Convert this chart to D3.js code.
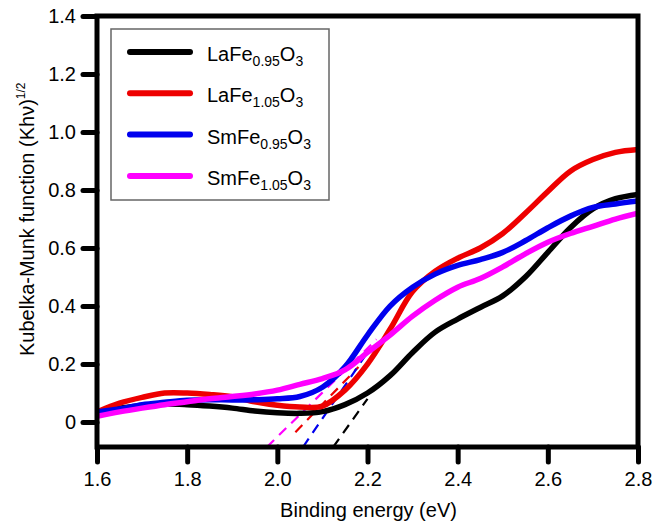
<!DOCTYPE html>
<html>
<head>
<meta charset="utf-8">
<script src="https://cdn.jsdelivr.net/npm/d3@7"></script>
<style>
  html, body { margin: 0; padding: 0; background: #fff; }
  svg { display: block; font-family: "Liberation Sans", Arial, sans-serif; }
</style>
</head>
<body>
<svg id="chart" width="657" height="523"></svg>
<script>
// energies (eV) shared by all four series
const energy = [1.60, 1.65, 1.70, 1.75, 1.80, 1.85, 1.90, 1.95, 2.00, 2.05, 2.10, 2.15, 2.20,
                2.25, 2.30, 2.35, 2.40, 2.45, 2.50, 2.55, 2.60, 2.65, 2.70, 2.75, 2.80];

const laFe095 = [0.035, 0.048, 0.056, 0.062, 0.060, 0.055, 0.048, 0.038, 0.032, 0.030, 0.036, 0.060, 0.100,
                 0.160, 0.240, 0.310, 0.355, 0.395, 0.435, 0.500, 0.585, 0.670, 0.735, 0.770, 0.785];
const laFe105 = [0.035, 0.065, 0.085, 0.100, 0.100, 0.095, 0.087, 0.070, 0.058, 0.052, 0.055, 0.110, 0.200,
                 0.320, 0.450, 0.520, 0.565, 0.600, 0.650, 0.720, 0.795, 0.865, 0.905, 0.930, 0.940];
const smFe095 = [0.035, 0.045, 0.060, 0.068, 0.075, 0.077, 0.076, 0.077, 0.080, 0.088, 0.120, 0.190, 0.300,
                 0.400, 0.465, 0.510, 0.540, 0.560, 0.585, 0.625, 0.670, 0.710, 0.740, 0.752, 0.762];
const smFe105 = [0.020, 0.035, 0.048, 0.060, 0.070, 0.080, 0.088, 0.097, 0.110, 0.130, 0.150, 0.180, 0.240,
                 0.300, 0.365, 0.420, 0.465, 0.495, 0.535, 0.580, 0.620, 0.650, 0.675, 0.700, 0.720];

// tangent (band-gap) extrapolations: [x0, y0, x1, y1]
const tangents = [
  [2.124, -0.086, 2.200, 0.080],
  [2.040, -0.035, 2.180, 0.190],
  [2.057, -0.086, 2.200, 0.240],
  [1.977, -0.086, 2.220, 0.285]
];

const names = [["LaFe", "0.95", "O", "3"], ["LaFe", "1.05", "O", "3"],
               ["SmFe", "0.95", "O", "3"], ["SmFe", "1.05", "O", "3"]];
const colors = ["#000000", "#ee0000", "#0000ee", "#ff00ff"];
const series = [laFe095, laFe105, smFe095, smFe105];

const xTicks = [1.6, 1.8, 2.0, 2.2, 2.4, 2.6, 2.8];
const yTicks = [0, 0.2, 0.4, 0.6, 0.8, 1.0, 1.2, 1.4];

const L = 97, R = 638, T = 16, B = 447;
const svg = d3.select('#chart');
const x = d3.scaleLinear().domain([1.6, 2.8]).range([L, R]);
const y = d3.scaleLinear().domain([-0.086, 1.4]).range([B, T]);

svg.append('clipPath').attr('id', 'clip')
  .append('rect').attr('x', L).attr('y', T).attr('width', R - L).attr('height', B - T);

const plot = svg.append('g').attr('clip-path', 'url(#clip)');

// dashed tangents
tangents.forEach((t, i) => {
  plot.append('line')
    .attr('x1', x(t[0])).attr('y1', y(t[1]))
    .attr('x2', x(t[2])).attr('y2', y(t[3]))
    .attr('stroke', colors[i]).attr('stroke-width', 2.2)
    .attr('stroke-dasharray', '10,7');
});

const line = d3.line()
  .x((d, i) => x(energy[i]))
  .y(d => y(d))
  .curve(d3.curveCatmullRom.alpha(0.5));

series.forEach((s, i) => {
  plot.append('path').datum(s)
    .attr('d', line)
    .attr('fill', 'none')
    .attr('stroke', colors[i])
    .attr('stroke-width', 5.5)
    .attr('stroke-linejoin', 'round');
});

// axes
const xAxis = svg.append('g').attr('transform', `translate(0,${B})`)
  .call(d3.axisBottom(x).tickValues(xTicks).tickSize(15).tickPadding(10).tickFormat(d3.format('.1f')));
const yAxis = svg.append('g').attr('transform', `translate(${L},0)`)
  .call(d3.axisLeft(y).tickValues(yTicks).tickSize(14).tickPadding(7)
    .tickFormat(d => d === 0 ? '0' : d3.format('.1f')(d)));

[xAxis, yAxis].forEach(a => {
  a.select('.domain').remove();
  a.selectAll('.tick line').attr('stroke', '#000').attr('stroke-width', 5).attr('stroke-linecap', 'round');
  a.selectAll('.tick text').attr('fill', '#000').style('font-size', '20px');
});

svg.append('rect')
  .attr('x', L).attr('y', T).attr('width', R - L).attr('height', B - T)
  .attr('fill', 'none').attr('stroke', '#000').attr('stroke-width', 5);

// axis titles
svg.append('text')
  .attr('x', (L + R) / 2 + 1).attr('y', 517)
  .attr('text-anchor', 'middle').style('font-size', '20px')
  .text('Binding energy (eV)');

const yt = svg.append('text')
  .attr('transform', 'translate(34,356) rotate(-90)')
  .attr('text-anchor', 'start').style('font-size', '20px');
yt.append('tspan').text('Kubelka-Munk function (Khν)');
yt.append('tspan').attr('dy', -9).style('font-size', '12px').text('1/2');

// legend
const lg = svg.append('g');
lg.append('rect').attr('x', 111).attr('y', 29).attr('width', 218).attr('height', 171)
  .attr('fill', '#fff').attr('stroke', '#666').attr('stroke-width', 1.5);
names.forEach((n, i) => {
  const ly = 52 + i * 41.3;
  lg.append('line').attr('x1', 130).attr('x2', 190).attr('y1', ly).attr('y2', ly)
    .attr('stroke', colors[i]).attr('stroke-width', 6).attr('stroke-linecap', 'round');
  const t = lg.append('text').attr('x', 207).attr('y', ly + 9).style('font-size', '20px');
  t.append('tspan').text(n[0]);
  t.append('tspan').attr('dy', 5).style('font-size', '14px').text(n[1]);
  t.append('tspan').attr('dy', -5).text(n[2]);
  t.append('tspan').attr('dy', 5).style('font-size', '14px').text(n[3]);
});
</script>
</body>
</html>
